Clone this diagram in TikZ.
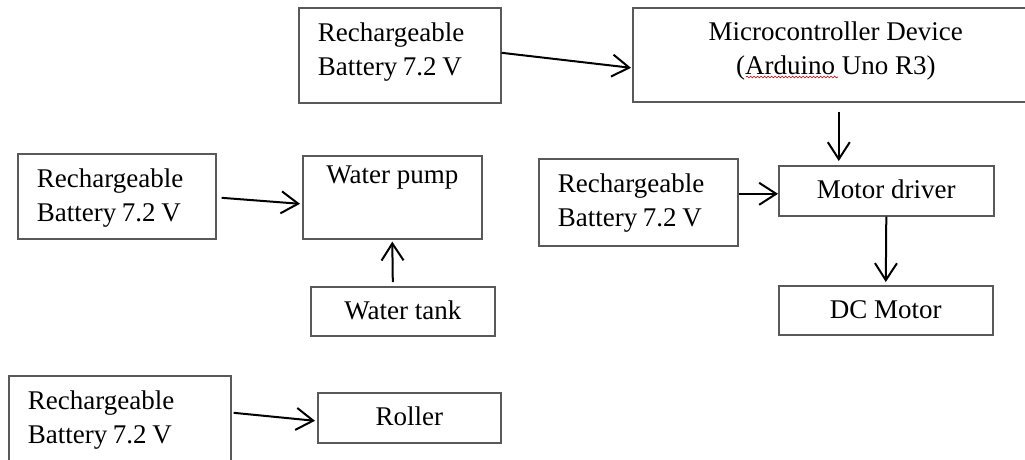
\documentclass[tikz,border=0pt]{standalone}
\usepackage{fontspec}
\setmainfont{Liberation Serif}
\usetikzlibrary{arrows.meta,decorations.pathmorphing}
\newcommand{\diafont}{\fontsize{27}{33.5}\selectfont}
\newcommand{\tightsp}{\spaceskip=0.21em\relax}
\begin{document}
\begin{tikzpicture}[x=1pt,y=-1pt,
  box/.style={draw=black!65,line width=1.6pt,rectangle,inner xsep=19pt,inner ysep=0pt,
    anchor=north west,font=\diafont,text height=33pt},
  batt/.style={box,align=left,text height=34pt},
  arr/.style={draw=black,line width=2pt,-{Straight Barb[length=17pt,width=22pt,line width=2pt]}}]
\useasboundingbox (0,0) rectangle (1025,459);

% boxes
\node[batt,text width=164pt,text depth=61pt] (b1) at (298,7) {\tightsp Rechargeable\\Battery 7.2 V};
\node[box,align=center,text width=368pt,text depth=61pt] (mc) at (632,7) {\spaceskip=0.25em\relax Microcontroller Device\\(Arduino Uno R3)};
\node[batt,text width=160pt,text depth=51pt] (b2) at (17,153) {\tightsp Rechargeable\\Battery 7.2 V};
\node[box,minimum width=179pt,text height=28pt,text depth=55pt] (wp) at (302,155) {Water pump};
\node[box,minimum width=184pt,text depth=16pt] (wt) at (310,286) {Water tank};
\node[batt,text width=161pt,text depth=53pt] (b3) at (538,158) {\tightsp Rechargeable\\Battery 7.2 V};
\node[box,minimum width=215pt,text depth=17pt] (md) at (778,165) {Motor driver};
\node[box,minimum width=214pt,text depth=16pt] (dc) at (778,285) {DC Motor};
\node[batt,text width=184pt,text depth=61pt] (b4) at (8,375) {\tightsp Rechargeable\\Battery 7.2 V};
\node[box,minimum width=183pt,text depth=17pt] (ro) at (317,392) {Roller};

% spell-check underline
\draw[red!80!black,line width=0.6pt,decorate,decoration={snake,amplitude=0.9pt,segment length=3.5pt}] (746,77) -- (838,77);

% connectors
\draw[arr] ([yshift=2.5pt]b1.east) -- ([xshift=-1pt,yshift=-13pt]mc.west);
\draw[arr] ([xshift=5pt,yshift=-1.5pt]b2.east) -- ([xshift=-2pt,yshift=-6.5pt]wp.west);
\draw[arr] ([xshift=-10pt,yshift=4pt]wt.north) -- ([yshift=-2pt]wp.south);
\draw[arr] ([xshift=3pt,yshift=-9pt]mc.south) -- ([xshift=-47.5pt,yshift=4pt]md.north);
\draw[arr] ([yshift=8.5pt]b3.east) -- ([yshift=-3pt]md.west);
\draw[arr] (md.south) -- ([yshift=3pt]dc.north);
\draw[arr] ([xshift=2pt,yshift=10.5pt]b4.east) -- ([xshift=-2pt,yshift=-3pt]ro.west);
\end{tikzpicture}
\end{document}
